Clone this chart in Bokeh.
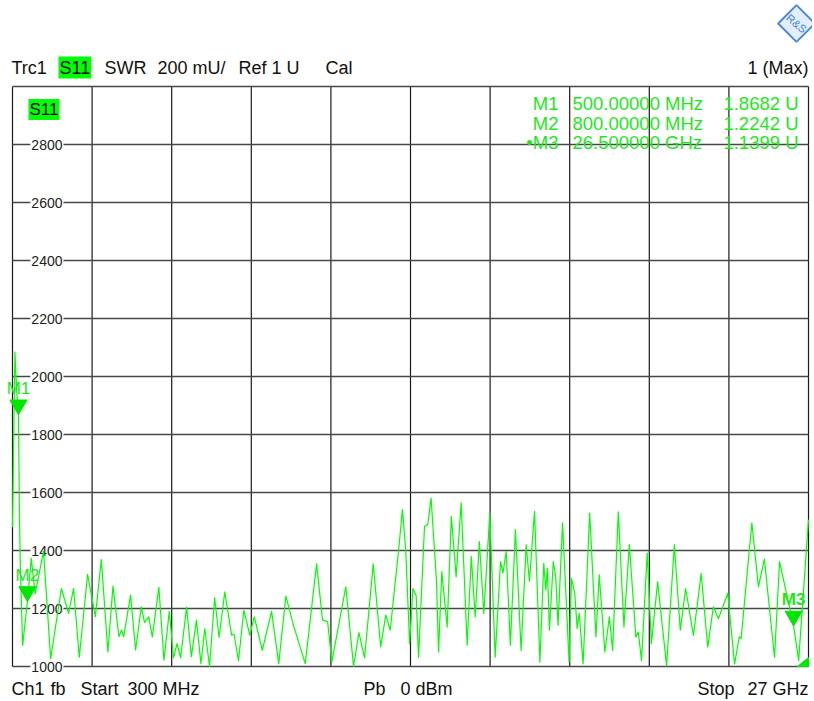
import math
from bokeh.plotting import figure
from bokeh.models import Label, Range1d
from bokeh.embed import file_html
from bokeh.resources import INLINE

# ---------------- data ----------------
freq_ghz = [0.30, 0.33, 0.38, 0.44, 0.50, 0.53, 0.56, 0.64, 0.80, 0.93, 1.06, 1.34, 1.58, 1.94,
            2.18, 2.35, 2.54, 2.82, 3.08, 3.28, 3.50, 3.67, 3.87, 3.96, 4.03, 4.26, 4.43, 4.62,
            4.73, 4.87, 4.99, 5.21, 5.38, 5.56, 5.70, 5.82, 5.94, 6.14, 6.30, 6.47, 6.62, 6.75,
            6.91, 7.08, 7.23, 7.42, 7.65, 7.73, 7.88, 8.06, 8.26, 8.41, 8.68, 8.99, 9.23, 9.47,
            9.73, 10.12, 10.50, 10.70, 10.87, 11.01, 11.48, 11.74, 11.92, 12.11, 12.40, 12.65,
            12.82, 12.97, 13.25, 13.38, 13.49, 13.62, 13.73, 13.84, 13.92, 14.12, 14.23, 14.34,
            14.52, 14.59, 14.70, 14.77, 14.88, 15.02, 15.18, 15.35, 15.55, 15.69, 15.82, 15.96,
            16.11, 16.31, 16.49, 16.67, 16.75, 16.86, 17.00, 17.17, 17.36, 17.53, 17.64, 17.81,
            17.99, 18.12, 18.19, 18.24, 18.31, 18.44, 18.52, 18.60, 18.75, 18.97, 19.05, 19.16,
            19.24, 19.31, 19.44, 19.66, 19.87, 19.98, 20.17, 20.32, 20.43, 20.62, 20.81, 20.99,
            21.21, 21.29, 21.40, 21.59, 21.73, 21.94, 22.24, 22.50, 22.70, 22.88, 23.14, 23.40,
            23.62, 23.81, 23.98, 24.29, 24.52, 24.68, 24.74, 25.10, 25.32, 25.52, 25.86, 26.03,
            26.50, 26.67, 27.00]
swr_mu = [1480, 1700, 2084, 1950, 1868, 1550, 1360, 1073, 1224, 1373, 1250, 1397, 1027, 1269,
          1183, 1269, 1032, 1318, 1172, 1369, 1050, 1277, 1103, 1125, 1103, 1246, 1057, 1206,
          1152, 1171, 1102, 1273, 1022, 1190, 1030, 1079, 1030, 1205, 1034, 1160, 1010, 1131,
          1000, 1237, 1100, 1257, 1108, 1112, 1020, 1194, 1108, 1171, 1056, 1190, 1010, 1243,
          1140, 1010, 1354, 1160, 1155, 1015, 1275, 1000, 1117, 1030, 1354, 1068,
          1177, 1125, 1400, 1541, 1402, 1079, 1269, 1245, 1032, 1483, 1490, 1581,
          1300, 1050, 1327, 1252, 1136, 1518, 1310, 1564, 1073, 1379, 1171, 1431,
          1183, 1529, 1032, 1362, 1322, 1396, 1073, 1472, 1055, 1420, 1294, 1535,
          1015, 1356, 1264, 1339, 1125, 1362, 1310, 1142, 1495, 1015, 1304, 1252,
          1131, 1183, 1009, 1529, 1102, 1316, 1050, 1171, 1055, 1533, 1136, 1420,
          1102, 1119, 1021, 1391, 1079, 1292, 1003, 1420, 1125, 1269, 1107, 1321,
          1067, 1206, 1165, 1252, 1009, 1102, 1096, 1495, 1275, 1370, 1032, 1362,
          1140, 1021, 1506]

marker_names = ["M1", "M2", "M3"]
marker_freq = [0.5, 0.8, 26.5]
marker_val = [1868.2, 1224.2, 1139.9]
marker_freq_text = ["500.00000 MHz", "800.00000 MHz", "26.500000 GHz"]
marker_val_text = ["1.8682 U", "1.2242 U", "1.1399 U"]

y_ticks = [1000, 1200, 1400, 1600, 1800, 2000, 2200, 2400, 2600, 2800, 3000]
y_tick_labels = ["1000", "1200", "1400", "1600", "1800", "2000", "2200", "2400", "2600", "2800"]
start_ghz, stop_ghz = 0.3, 27.0
y_min, y_max = 1000, 3000
n_xdiv = 10

# ---------------- layout (page pixels) ----------------
W, H = 812, 700
GL, GR, GT, GB = 12, 808, 86, 666   # diagram area edges
FONT = "Liberation Sans"
GREEN = "#00ff00"
TXT_GREEN = "#1ee61e"
gpp = (stop_ghz - start_ghz) / (GR - GL)   # GHz per pixel
upp = (y_max - y_min) / (GB - GT)          # units per pixel


def X(px):  # page x -> data
    return start_ghz + (px - GL) * gpp


def Y(py):  # page y -> data
    return y_min + (GB - py) * upp


p = figure(width=W, height=H, output_backend="svg", toolbar_location=None,
           x_range=Range1d(X(0), X(W)), y_range=Range1d(Y(H), Y(0)),
           min_border=0, x_axis_location=None, y_axis_location=None)
p.xgrid.visible = False
p.ygrid.visible = False
p.background_fill_color = "white"
p.border_fill_color = "white"
p.outline_line_color = None

# grid (through the data scales)
x_ticks = [start_ghz + i * (stop_ghz - start_ghz) / n_xdiv for i in range(n_xdiv + 1)]
p.segment(x0=x_ticks, y0=[y_min] * len(x_ticks), x1=x_ticks, y1=[y_max] * len(x_ticks),
          line_color="#1a1a1a", line_width=1.2, level="underlay")
p.segment(x0=[start_ghz] * len(y_ticks), y0=y_ticks, x1=[stop_ghz] * len(y_ticks), y1=y_ticks,
          line_color="#474747", line_width=1.6, level="underlay")

# y tick labels inside the diagram, under the trace
for t, lab in zip(y_ticks, y_tick_labels):
    p.add_layout(Label(x=X(63), y=t, text=lab, text_align="right", text_baseline="middle",
                       text_color="#222222", text_font=FONT, text_font_size="14px",
                       background_fill_color="white", padding=1, level="underlay"))

# trace
p.line(freq_ghz, swr_mu, line_color=GREEN, line_width=1.2, line_join="round")

# marker triangles (tip at the marker value)
tri_size = 17
tri_y = [v + 0.577 * tri_size * upp for v in marker_val]
p.scatter(marker_freq, tri_y, marker="inverted_triangle", size=tri_size,
          fill_color="#00e600", line_color="#00e600")
# stop-edge indicator in the lower right corner
p.patch([stop_ghz, stop_ghz, stop_ghz - 11 * gpp], [y_min, y_min + 9 * upp, y_min],
        fill_color="#00e600", line_color="#00e600")

for name, f, v in zip(marker_names, marker_freq, marker_val):
    p.add_layout(Label(x=f, y=v, y_offset=26, text=name, text_align="center",
                       text_baseline="middle", text_color=TXT_GREEN, text_font=FONT,
                       text_font_size="17px",
                       text_font_style="bold" if name == "M3" else "normal"))

# S11 label in diagram
p.add_layout(Label(x=X(28), y=Y(109), text="S11", text_align="left", text_baseline="middle",
                   text_color="black", text_font=FONT, text_font_size="17px",
                   background_fill_color=GREEN, padding=1))

# marker table
row_y = [103, 122.5, 141.5]
for i in range(3):
    nm = ("\u2022" if i == 2 else "") + marker_names[i]
    for px, txt, al in [(558, nm, "right"), (572, marker_freq_text[i], "left"),
                        (798, marker_val_text[i], "right")]:
        p.add_layout(Label(x=X(px), y=Y(row_y[i]), text=txt, text_align=al,
                           text_baseline="middle", text_color=TXT_GREEN, text_font=FONT,
                           text_font_size="18.5px"))


def hdr(px, py, text, align="left", bg=None):
    kw = dict(background_fill_color=bg, padding=1) if bg else {}
    p.add_layout(Label(x=X(px), y=Y(py), text=text, text_align=align, text_baseline="middle",
                       text_color="#111111", text_font=FONT, text_font_size="18px", **kw))


# header line
hdr(11, 67, "Trc1")
hdr(58, 67, "S11", bg=GREEN)
hdr(104, 67, "SWR")
hdr(157, 67, "200 mU/")
hdr(238, 67, "Ref 1 U")
hdr(325, 67, "Cal")
hdr(808, 67, "1 (Max)", align="right")

# footer line
hdr(11, 688, "Ch1")
hdr(50, 688, "fb")
hdr(80, 688, "Start")
hdr(127, 688, "300 MHz")
hdr(363, 688, "Pb")
hdr(400, 688, "0 dBm")
hdr(697, 688, "Stop")
hdr(808, 688, "27 GHz", align="right")

# logo
p.scatter([X(796)], [Y(23)], marker="square", angle=math.pi / 4, size=26,
          fill_color="#e4eefa", line_color="#4a8ad8", line_width=2)
p.add_layout(Label(x=X(796), y=Y(23), text="R&S", text_align="center", text_baseline="middle",
                   text_color="#3f86d8", text_font=FONT, text_font_size="11px", angle=-0.7))

open("out.html", "w").write(file_html(p, INLINE))
